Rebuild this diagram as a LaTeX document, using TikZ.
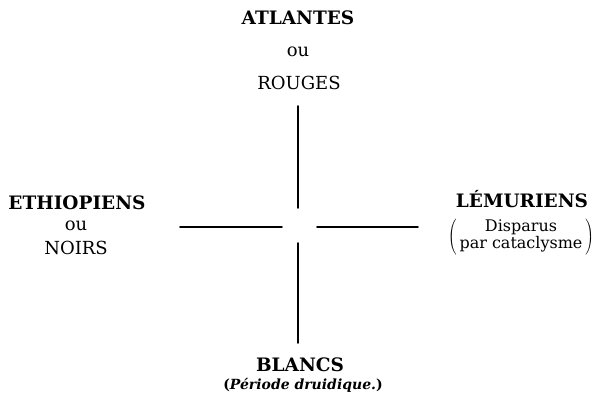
\documentclass[tikz,border=0pt]{standalone}
\usepackage{fontspec}
\usepackage{tikz}
\usetikzlibrary{positioning, calc}
\newfontfamily\slabfont{DejaVu Serif}
\tikzset{
	racebold/.style={inner sep=0pt, font=\slabfont\bfseries\fontsize{18.5}{20}\selectfont},
	raceplain/.style={inner sep=0pt, font=\slabfont\fontsize{18}{20}\selectfont},
	raceitalic/.style={inner sep=0pt, font=\slabfont\bfseries\fontsize{14}{16}\selectfont},
	arm/.style={line width=1.8pt, line cap=round},
}

\begin{document}
\begin{tikzpicture}[x=1pt, y=1pt]
	\useasboundingbox (0,0) rectangle (597,407);
	% north
	\node[racebold] (atl) at (298,389) {ATLANTES};
	\node[raceplain] (ouN) at (298,355) {ou};
	\node[raceplain] (rouges) at (299,324) {ROUGES};
	% west
	\node[racebold] (eth) at (77,204) {ETHIOPIENS};
	\node[raceplain] (ouW) at (76,181) {ou};
	\node[raceplain] (noirs) at (76,159) {NOIRS};
	% east
	\node[racebold] (lem) at (522,208) {LÉMURIENS};
	\node[inner sep=0pt, font=\slabfont\fontsize{16}{16.5}\selectfont] (disp) at (521,170)
		{$\left(\,\begin{tabular}{@{}c@{}}Disparus\\par cataclysme\end{tabular}\,\right)$};
	% south
	\node[racebold] (blancs) at (300,42) {BLANCS};
	\node[raceitalic] (druid) at (303,22) {(\textit{Période druidique.})};
	% the cross
	\coordinate (centre) at (298,180);
	\foreach \nm/\ax/\ay/\bx/\by in {n/0/19/0/121, s/0/-16/0/-116, w/-16/0/-118/0, e/19/0/120/0} {
		\coordinate (\nm in) at ($(centre)+(\ax,\ay)$);
		\coordinate (\nm out) at ($(centre)+(\bx,\by)$);
		\draw[arm] (\nm in) -- (\nm out);
	}
\end{tikzpicture}
\end{document}
